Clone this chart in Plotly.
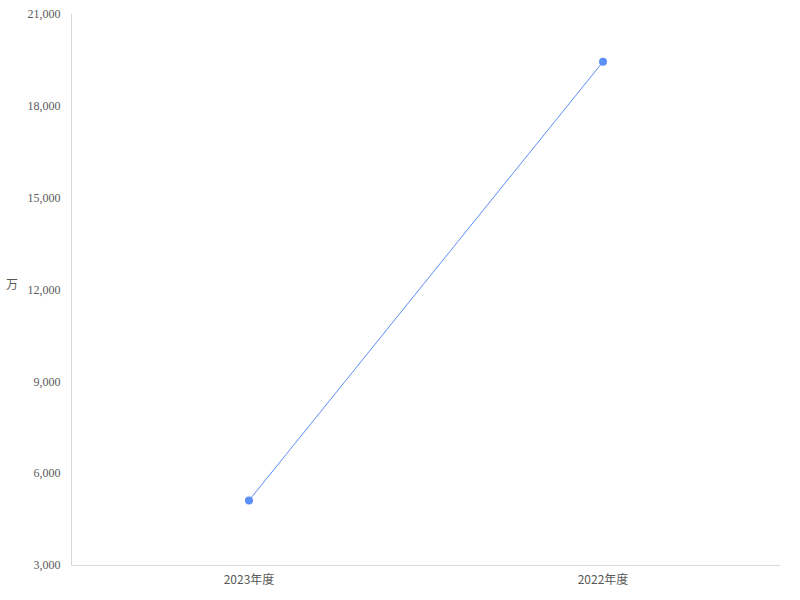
import plotly.graph_objects as go

categories = ["2023年度", "2022年度"]
values = [5110, 19440]
y_ticks = [3000, 6000, 9000, 12000, 15000, 18000, 21000]
y_unit = "万"

fig = go.Figure()
fig.add_trace(go.Scatter(
    x=categories, y=values, mode="lines+markers",
    line=dict(color="#5B8FF9", width=1),
    marker=dict(color="#5B8FF9", size=8),
    hoverinfo="x+y",
))

fig.update_layout(
    width=800, height=600,
    margin=dict(l=72, r=20, t=14, b=35),
    plot_bgcolor="white", paper_bgcolor="white",
    showlegend=False,
    xaxis=dict(
        type="category", range=[-0.5, 1.5],
        showline=True, linecolor="#D9D9D9", linewidth=1,
        showgrid=False, zeroline=False, ticks="",
        tickfont=dict(family="Noto Sans CJK SC", size=12, color="#595959"),
        ticklabelstandoff=4, automargin=False,
    ),
    yaxis=dict(
        range=[3000, 21000], tickvals=y_ticks,
        tickformat=",d",
        showline=True, linecolor="#D9D9D9", linewidth=1,
        showgrid=False, zeroline=False, ticks="",
        tickfont=dict(family="Liberation Serif", size=12, color="#595959"),
        ticklabelstandoff=8, automargin=False,
    ),
    annotations=[dict(
        text=y_unit, xref="paper", yref="paper", x=-(72 - 4) / 708, y=(565 - 283) / 551,
        xanchor="left", yanchor="middle", showarrow=False,
        font=dict(family="Noto Sans CJK SC", size=12, color="#595959"),
    )],
)

fig.write_html("out.html", config={"displayModeBar": False},
               post_script="document.body.style.margin='0';")
